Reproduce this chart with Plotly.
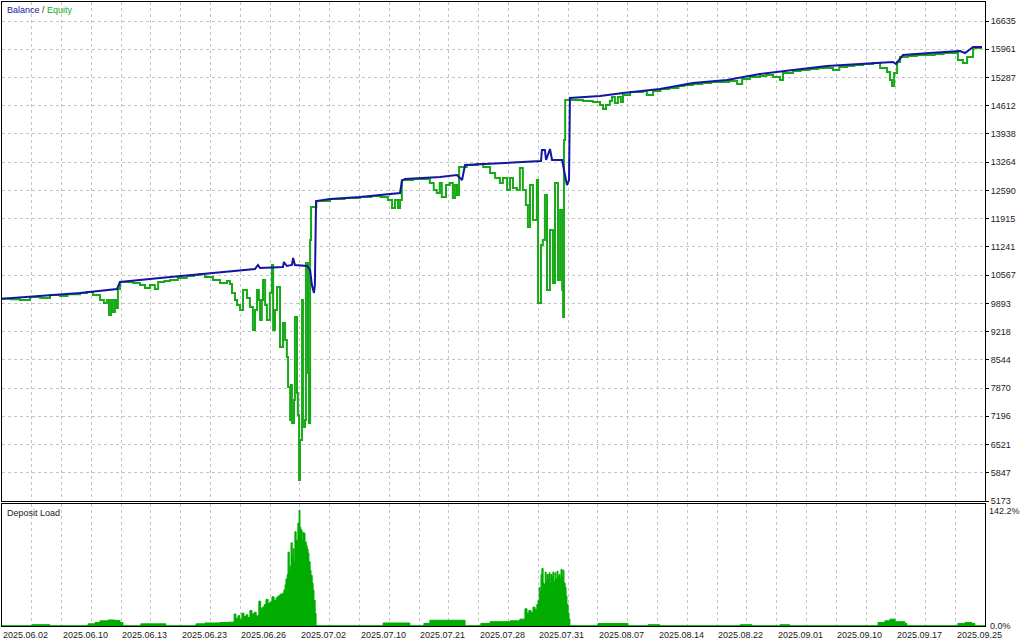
import plotly.graph_objects as go

# ---------------- data ----------------
balance_x = [0.0, 12.8, 26.2, 38.6, 39.6, 53.0, 66.4, 75.5, 84.9, 85.9, 86.6, 94.3, 94.6, 95.6, 97.3, 97.7,
             98.3, 102.4, 103.4, 104.0, 104.7, 105.0, 105.4, 110.1, 120.1, 133.6, 134.2, 135.2, 147.0, 152.7,
             153.7, 154.4, 155.4, 167.1, 177.2, 180.9, 181.2, 182.2, 182.6, 183.9, 184.6, 188.0, 188.6, 189.6,
             190.3, 190.6, 200.7, 208.4, 220.8, 231.9, 243.3, 254.4, 265.5, 276.9, 287.9, 299.0, 300.0, 302.4,
             311.4, 321.5, 323.2, 325.9, 328.9]
balance_y = [10000, 10068, 10140, 10236, 10403, 10498, 10594, 10642, 10713, 10809, 10737, 10761, 10880, 10785,
             10809, 10976, 10809, 10785, 10689, 10331, 10140, 10331, 12337, 12385, 12432, 12528, 12815, 12862,
             12910, 12958, 12886, 12838, 13197, 13245, 13292, 13292, 13555, 13555, 13316, 13579, 13316, 13316,
             13077, 12719, 12838, 14797, 14844, 14916, 15011, 15155, 15226, 15370, 15465, 15561, 15609, 15656,
             15609, 15824, 15871, 15919, 15871, 16015, 16015]

equity_x = [0.0, 3.0, 6.0, 9.4, 12.8, 16.1, 19.5, 22.0, 26.2, 28.5, 30.5, 32.9, 34.2, 35.2, 35.9, 36.6, 37.2,
            37.9, 38.3, 38.9, 39.6, 42.0, 44.0, 46.3, 48.0, 49.7, 51.3, 52.4, 54.5, 56.4, 59.0, 62.0, 64.5,
            66.4, 68.1, 70.8, 73.2, 75.5, 76.5, 77.2, 78.2, 78.9,
            79.9, 80.9, 82.2, 83.2, 84.2, 84.9, 85.6, 86.2, 86.6, 87.2, 87.6, 88.3, 88.9, 89.9, 90.6, 91.0, 91.6,
            92.3, 93.3, 94.3, 95.0, 95.6, 96.0, 96.7, 97.0, 97.3, 98.0, 98.3, 99.0, 99.3, 99.7, 100.0, 100.7,
            101.0, 101.7, 102.0, 102.7, 103.0, 103.4, 103.7, 105.5, 110.1, 115.0, 120.1, 124.0, 127.0, 129.5,
            130.9, 131.9, 132.9, 133.6, 134.2, 138.0, 143.6, 144.9, 145.9, 146.9, 147.6, 149.0, 150.3, 151.3,
            152.0, 152.7, 153.4, 156.0, 159.4, 161.5, 163.8, 165.5,
            167.1, 168.1, 169.5, 170.5, 171.5, 172.8, 173.8, 174.8, 175.8, 176.5, 177.2, 178.2, 179.5,
            179.9, 180.9, 181.5, 182.2, 182.9, 183.9, 184.9, 185.6, 186.6, 187.3, 188.0, 188.3, 188.6, 189.0,
            190.6, 193.0, 195.0, 198.3, 200.7, 201.7, 202.7, 204.0, 204.7, 205.7, 206.7, 207.7, 208.4, 210.8,
            213.0, 215.1, 216.4, 218.5, 221.0, 224.0, 227.0, 229.0, 231.9, 235.0, 238.0, 242.0, 244.0, 246.7,
            248.4, 251.0, 254.4, 256.5, 258.8, 261.1, 262.1, 265.5, 268.0, 271.0, 274.0, 276.9, 278.9, 281.0,
            283.6, 286.0, 289.0, 292.3, 294.7, 297.0, 298.0, 298.7, 299.4, 300.4, 301.4, 304.0, 307.0, 310.4,
            313.0, 316.0, 319.1, 320.8, 322.5, 323.9, 325.9, 328.9]
equity_y = [10000, 9990, 9973, 10045, 10021, 10093, 10068, 10110, 10140, 10164, 10093, 9973, 9901, 9973, 9615,
            9973, 9686, 9973, 9782, 10236, 10403, 10403, 10380, 10331, 10260, 10331, 10236, 10403, 10427,
            10450, 10498, 10546, 10570, 10594, 10522, 10450, 10379, 10427, 10355, 10140, 9973, 9853,
            9734, 10212, 10021, 9806, 9256, 9734, 10212, 9973, 9495, 9973,
            10450, 9853, 9495, 10140, 10809, 9256, 9734, 10283, 8850, 9424, 9018, 8612, 7895, 7107, 7943, 7036,
            7585, 9567, 7752, 7227, 5674, 6629, 9973, 6940, 7107, 10856, 8230, 7036, 11406, 12194, 12337,
            12385, 12409, 12432, 12456, 12433, 12361, 12170, 12361, 12170, 12361, 12839, 12862, 12767, 12600,
            12528, 12767, 12433, 12719, 12767, 12409, 12719, 12481, 13149, 13197, 13221, 13149, 13006, 12886,
            12767, 12886, 12600, 12886, 12648, 12600, 13125, 12600,
            12242, 11716, 12719, 11883, 12839, 9901, 11287, 11406, 12481, 10212, 11644, 10379, 12767, 10450,
            12122, 10212, 9567, 13794, 14749, 14749, 14749, 14725, 14701, 14629, 14534, 14629, 14725, 14820,
            14677, 14820, 14701, 14868, 14940, 14940, 14964, 14868, 14964, 15011, 15035, 15083, 15107, 15131,
            15155, 15179, 15179, 15203, 15131, 15250, 15298, 15322, 15346, 15298, 15226, 15394, 15441, 15465,
            15489, 15513, 15513, 15465, 15537, 15561, 15585, 15609, 15633, 15513, 15418, 15226, 15083, 15394,
            15656, 15776, 15800, 15824, 15824, 15847, 15871, 15871, 15704, 15633, 15776, 15991, 15991]

load_x = [0.0, 9.4, 10.1, 15.1, 16.1, 27.9, 28.9, 31.2, 32.9, 35.6, 37.9, 39.6, 40.6, 46.0, 46.6, 53.0, 55.0,
          63.1, 65.1, 68.1, 73.2, 75.8, 77.9, 78.5, 79.2, 79.8, 80.5, 81.2, 81.9, 82.5, 83.2, 83.9, 84.6, 85.3,
          86.2, 86.8, 87.3, 88.0, 88.6, 89.3, 89.9, 90.6, 91.3, 92.0, 92.6, 93.3, 94.0, 94.6, 95.0, 95.3, 95.7,
          96.0, 96.4, 96.7, 97.0, 97.4, 97.7, 98.0, 98.3, 98.7, 99.0, 99.3, 99.7, 100.0, 100.3, 100.7, 101.0,
          101.4, 101.7, 102.1, 102.4, 102.7, 103.0, 103.4, 103.7, 104.1, 104.4, 104.7, 105.1, 105.4,
          126.9, 127.9, 136.3, 136.9, 141.6, 143.6, 153.7, 155.4, 159.7, 160.7, 163.8, 170.5, 173.8, 175.5,
          176.2, 176.8, 177.5, 178.2, 178.9, 179.5, 179.9, 180.3, 180.6, 180.9, 181.2, 181.6, 181.9, 182.3,
          182.6, 182.9, 183.3, 183.6, 183.9, 184.2, 184.6, 184.9, 185.2, 185.6, 185.9, 186.3, 186.6, 187.0,
          187.3, 187.6, 188.0, 188.3, 188.6, 189.0, 189.3, 189.6, 190.0, 190.3, 190.6,
          199.0, 200.0, 209.1, 210.1, 215.8, 216.8, 219.5, 220.8, 246.7, 247.7, 251.0, 251.7, 260.4, 261.1,
          263.8, 264.4, 293.0, 294.0, 296.3, 298.0, 299.7, 303.0, 303.7, 319.8, 320.8, 323.2, 325.5, 326.5,
          329.9]
load_y = [0.4, 0.4, 1.5, 1.5, 0.4, 0.5, 2.5, 4.0, 6.0, 7.0, 6.5, 4.0, 0.4, 0.4, 2.5, 2.5, 0.4,
          0.4, 2.5, 3.5, 4.0, 4.5, 14, 9, 12, 8, 15, 11, 13, 10, 18, 14, 16, 12,
          29, 20, 22, 25, 31, 26, 28, 34, 30, 33, 35, 37, 38, 42, 48, 55, 60,
          86, 65, 70, 97, 80, 90, 75, 110, 100, 100, 120, 135, 115, 112, 100, 109,
          108, 98, 94, 90, 85, 75, 65, 59, 50, 42, 30, 15, 0.4,
          0.4, 3.5, 3.5, 0.4, 3.0, 6.7, 6.7, 0.4, 0.4, 3.0, 5.0, 6.0, 8.0, 20,
          15, 18, 16, 22, 19, 25, 30, 45, 40, 60, 67, 50, 48, 63,
          52, 60, 55, 62, 50, 60, 57, 63, 52, 62, 55, 64, 58, 60,
          55, 66, 58, 65, 50, 45, 35, 25, 15, 8, 0.4,
          0.4, 3.0, 3.0, 0.4, 0.4, 1.5, 1.5, 0.4, 0.4, 1.5, 1.5, 0.4, 0.4, 1.5,
          1.5, 0.4, 0.4, 4.0, 6.0, 8.0, 5.0, 3.0, 0.4, 0.4, 3.0, 4.0, 3.0, 0.4,
          0.4]

date_pos = [0, 20, 40, 60, 80, 100, 120, 140, 160, 180, 200, 220, 240, 260, 280, 300, 320]
date_labels = ["2025.06.02", "2025.06.10", "2025.06.13", "2025.06.23", "2025.06.26", "2025.07.02",
               "2025.07.10", "2025.07.21", "2025.07.28", "2025.07.31", "2025.08.07", "2025.08.14",
               "2025.08.22", "2025.09.01", "2025.09.10", "2025.09.17", "2025.09.25"]
y_ticks = [5173, 5847, 6521, 7196, 7870, 8544, 9218, 9893, 10567, 11241, 11915, 12590, 13264, 13938,
           14612, 15287, 15961, 16635]
load_max = 142.2
load_tick_text = ["0.0%", "142.2%"]

# ---------------- styling ----------------
BLUE = "#1515A3"
GREEN = "#17A917"
FILL = "#00AC00"
GRID = "#C4C4C4"
FONT = "Liberation Sans"
TOP_DOM = [0.2003, 1]
BOT_DOM = [0, 0.1955]

fig = go.Figure()
fig.add_trace(go.Scatter(x=equity_x, y=equity_y, mode="lines", line=dict(color=GREEN, width=2, shape="hv"),
                         name="Equity", xaxis="x", yaxis="y"))
fig.add_trace(go.Scatter(x=balance_x, y=balance_y, mode="lines", line=dict(color=BLUE, width=2),
                         name="Balance", xaxis="x", yaxis="y"))
fig.add_trace(go.Scatter(x=load_x, y=load_y, mode="lines", line=dict(color=FILL, width=1, shape="hv"),
                         fill="tozeroy", fillcolor=FILL, name="Deposit Load", xaxis="x2", yaxis="y2"))

xr = [0, 329.9]
common_x = dict(range=xr, tick0=0, dtick=10, showgrid=True, gridcolor=GRID, gridwidth=1,
                griddash="3px,3px", showline=True, linecolor="#000", linewidth=1, mirror=True,
                zeroline=False, showticklabels=False, ticks="")

fig.update_layout(
    width=1024, height=640,
    margin=dict(l=2, r=39, t=2, b=14),
    paper_bgcolor="white", plot_bgcolor="white",
    showlegend=False,
    font=dict(family=FONT, size=9, color="#222"),
    xaxis=dict(domain=[0, 1], anchor="y", **common_x),
    xaxis2=dict(domain=[0, 1], anchor="y2", matches="x", **common_x),
    yaxis=dict(domain=TOP_DOM, range=[5173, 17089], side="right", tickvals=y_ticks,
               ticktext=[str(v) for v in y_ticks], showgrid=True, gridcolor=GRID, griddash="3px,3px",
               showline=True, linecolor="#000", mirror=True, zeroline=False,
               ticks="outside", ticklen=3, tickcolor="#000", tickfont=dict(family=FONT, size=9, color="#222")),
    yaxis2=dict(domain=BOT_DOM, range=[0, load_max], side="right", showticklabels=False,
                showgrid=False, showline=True, linecolor="#000", mirror=True, zeroline=False, ticks=""),
)

annotations = [
    dict(text="<span style='color:%s'>Balance</span> / <span style='color:%s'>Equity</span>" % (BLUE, GREEN),
         xref="paper", yref="paper", x=0.003, y=0.999, xanchor="left", yanchor="top", showarrow=False,
         font=dict(family=FONT, size=9, color="#333")),
    dict(text="Deposit Load", xref="paper", yref="paper", x=0.003, y=0.193, xanchor="left", yanchor="top",
         showarrow=False, font=dict(family=FONT, size=9, color="#222")),
    dict(text=load_tick_text[1], xref="paper", yref="y2", x=1, y=load_max, xanchor="left", yanchor="top",
         xshift=2, showarrow=False, font=dict(family=FONT, size=9, color="#222")),
    dict(text=load_tick_text[0], xref="paper", yref="y2", x=1, y=0, xanchor="left", yanchor="middle",
         xshift=3, showarrow=False, font=dict(family=FONT, size=9, color="#222")),
]
for p, lab in zip(date_pos, date_labels):
    annotations.append(dict(text=lab, xref="x2", yref="paper", x=p, y=-0.004, xanchor="left",
                            yanchor="top", xshift=-1, showarrow=False,
                            font=dict(family=FONT, size=9, color="#222")))
fig.update_layout(annotations=annotations)

fig.write_html("out.html", config={"displayModeBar": False},
               post_script="document.body.style.margin='0px';document.body.style.overflow='hidden';")
